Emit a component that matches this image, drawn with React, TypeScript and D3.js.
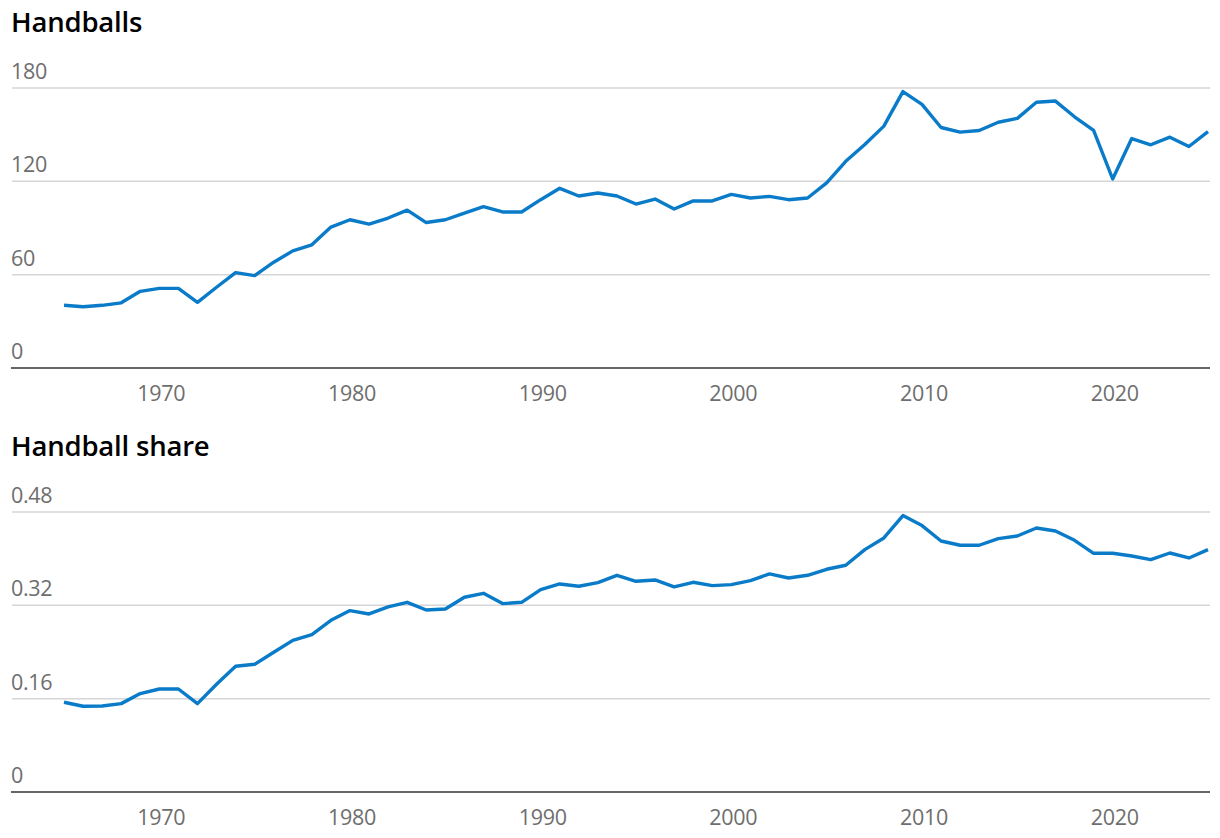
import React from "react";
import * as d3 from "d3";

const years: number[] = d3.range(1965, 2026);

const handballs: number[] = [
  40.3, 39.4, 40.3, 41.9, 49.3, 51.2, 51.2, 42.2, 51.9, 61.3,
  59.4, 68.0, 75.3, 79.2, 90.6, 95.3, 92.5, 96.4, 101.5, 93.5,
  95.3, 99.6, 103.7, 100.3, 100.3, 108.2, 115.5, 110.6, 112.5, 110.6,
  105.4, 108.6, 102.2, 107.4, 107.4, 111.6, 109.3, 110.3, 108.2, 109.3,
  119.0, 132.9, 143.7, 155.5, 177.7, 169.5, 154.6, 151.6, 152.7, 158.0,
  160.5, 170.8, 171.6, 161.5, 152.7, 121.5, 147.5, 143.5, 148.4, 142.4,
  151.9,
];

const handballShare: number[] = [
  0.1538, 0.147, 0.1475, 0.1515, 0.1687, 0.1766, 0.1766, 0.1515, 0.1846, 0.2155,
  0.219, 0.2395, 0.26, 0.2698, 0.2943, 0.311, 0.3052, 0.3172, 0.3252, 0.312,
  0.3137, 0.3338, 0.3406, 0.323, 0.3252, 0.347, 0.3566, 0.3527, 0.359, 0.3715,
  0.3612, 0.3635, 0.3515, 0.3595, 0.3538, 0.3555, 0.3624, 0.3738, 0.3669, 0.3715,
  0.3818, 0.3887, 0.4155, 0.4355, 0.4738, 0.4567, 0.4303, 0.423, 0.423, 0.4344,
  0.4389, 0.4526, 0.4475, 0.4315, 0.4092, 0.4092, 0.4046, 0.3984, 0.4097, 0.4012,
  0.4155,
];

const xTicks: number[] = [1970, 1980, 1990, 2000, 2010, 2020];
const handballTicks: number[] = [0, 60, 120, 180];
const shareTicks: number[] = [0, 0.16, 0.32, 0.48];

const W = 1220;
const H = 838;
const FONT = "'Open Sans', 'Noto Sans', sans-serif";

type PanelProps = {
  title: string;
  values: number[];
  ticks: number[];
  maxY: number;
  top: number;
  fmt: (v: number) => string;
};

function Panel({ title, values, ticks, maxY, top, fmt }: PanelProps) {
  const x = d3.scaleLinear().domain([1965, 2025]).range([64, 1208]);
  const y = d3.scaleLinear().domain([0, maxY]).range([top + 368, top + 88]);
  const line = d3
    .line<number>()
    .x((_, i) => x(years[i]))
    .y((d) => y(d));
  return (
    <g>
      <text x={11} y={top + 32} fontFamily={FONT} fontWeight={600} fontSize={27.5} fill="#000" letterSpacing={-0.2}>
        {title}
      </text>
      {ticks.map((t) => (
        <g key={t}>
          {t !== 0 && (
            <line x1={12} x2={1210} y1={y(t)} y2={y(t)} stroke="#d6d6d6" strokeWidth={1.5} />
          )}
          <text x={11} y={y(t) - 9} fontFamily={FONT} fontSize={21.5} fill="#6e6e6e" letterSpacing={-0.3}>
            {fmt(t)}
          </text>
        </g>
      ))}
      <line x1={11} x2={1210} y1={y(0)} y2={y(0)} stroke="#666" strokeWidth={2} />
      {xTicks.map((t) => (
        <text
          key={t}
          x={x(t) + 2}
          y={top + 401}
          textAnchor="middle"
          fontFamily={FONT}
          fontSize={21.5}
          fill="#6e6e6e"
          letterSpacing={-0.3}
        >
          {t}
        </text>
      ))}
      <path d={line(values) || ""} fill="none" stroke="#0a7bc8" strokeWidth={3.4} strokeLinejoin="round" />
    </g>
  );
}

export default function App() {
  return (
    <svg
      width={W}
      height={H}
      viewBox={`0 0 ${W} ${H}`}
      style={{ position: "absolute", left: 0, top: 0, background: "#fff" }}
    >
      <Panel title="Handballs" values={handballs} ticks={handballTicks} maxY={180} top={0} fmt={(v) => String(v)} />
      <Panel
        title="Handball share"
        values={handballShare}
        ticks={shareTicks}
        maxY={0.48}
        top={424}
        fmt={(v) => (v === 0 ? "0" : String(v))}
      />
    </svg>
  );
}
